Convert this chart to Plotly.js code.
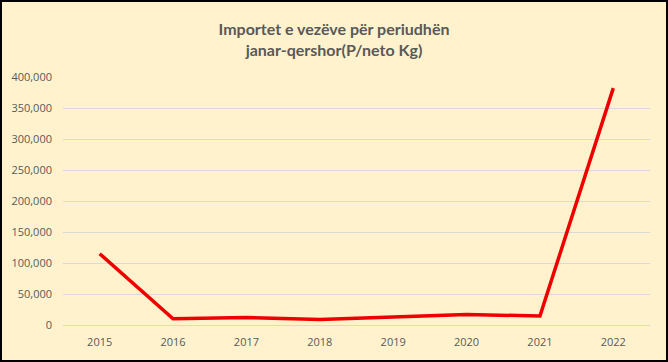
<!DOCTYPE html>
<html>
<head>
<meta charset="utf-8">
<script src="https://cdn.plot.ly/plotly-3.0.1.min.js"></script>
<style>
html,body{margin:0;padding:0;background:#fff;}
#wrap{position:relative;width:668px;height:362px;}
#chart{position:absolute;left:0;top:0;width:668px;height:362px;}
#frame{position:absolute;left:0;top:0;width:668px;height:362px;box-sizing:border-box;border:2px solid #000;pointer-events:none;}
</style>
</head>
<body>
<div id="wrap"><div id="chart"></div><div id="frame"></div></div>
<script>
const years = ['2015','2016','2017','2018','2019','2020','2021','2022'];
const imports = [115000, 10000, 12000, 9000, 13000, 17000, 14500, 382000];

const trace = {
  x: years,
  y: imports,
  type: 'scatter',
  mode: 'lines',
  line: {color: '#EE0000', width: 3.5},
  hoverinfo: 'x+y'
};

const layout = {
  width: 668,
  height: 362,
  paper_bgcolor: '#FFF2CC',
  plot_bgcolor: '#FFF2CC',
  margin: {l: 63, r: 18, t: 77, b: 37},
  title: {
    text: 'Importet e vezëve për periudhën<br>janar-qershor(P/neto Kg)',
    font: {family: 'Lato, sans-serif', size: 16, color: '#595959', weight: 'bold'},
    x: 0.5, xanchor: 'center', y: 0.904, yanchor: 'middle'
  },
  xaxis: {
    type: 'category',
    range: [-0.5, 7.5],
    showgrid: false,
    showline: false,
    ticks: '',
    ticklabelstandoff: 9,
    tickfont: {family: 'Open Sans, sans-serif', size: 11, color: '#595959'},
    fixedrange: true
  },
  yaxis: {
    range: [0, 400000],
    dtick: 50000,
    tickformat: ',',
    showgrid: true,
    gridcolor: '#D9D9D9',
    gridwidth: 1,
    zeroline: true,
    zerolinecolor: '#D9D9D9',
    zerolinewidth: 1,
    showline: false,
    ticks: '',
    ticklabelstandoff: 10,
    tickfont: {family: 'Open Sans, sans-serif', size: 11, color: '#595959'},
    fixedrange: true
  },
  showlegend: false
};

Plotly.newPlot('chart', [trace], layout, {displayModeBar: false, staticPlot: true});
</script>
</body>
</html>
